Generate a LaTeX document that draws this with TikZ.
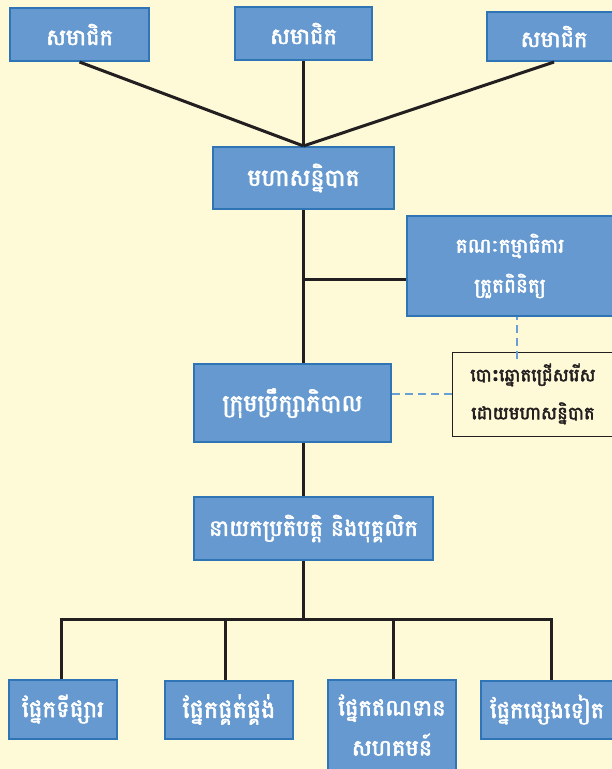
\documentclass[tikz,border=0pt]{standalone}
\usepackage{fontspec}
\newfontfamily\kh[Script=Khmer,AutoFakeBold=2.5]{Battambang}
\definecolor{bgc}{HTML}{FEF9D6}
\definecolor{boxfill}{HTML}{6699CF}
\definecolor{boxline}{HTML}{2F75B5}
\definecolor{dashc}{HTML}{6A9FD4}
\definecolor{ink}{HTML}{231F20}
\tikzset{
  kbox/.style={draw=boxline, line width=2pt, fill=boxfill, text=white, inner sep=0pt,
    align=center, font=\kh\bfseries\fontsize{22.5}{40}\selectfont},
  notebox/.style={draw=ink, line width=1pt, fill=bgc, text=ink, inner sep=0pt,
    align=center, font=\kh\bfseries\fontsize{18}{38}\selectfont},
  conn/.style={draw=ink, line width=3pt},
  dashln/.style={draw=dashc, line width=2.2pt, dash pattern=on 8pt off 5pt}
}
\begin{document}
\begin{tikzpicture}[x=1pt,y=-1pt]
\fill[bgc] (0,0) rectangle (612,769);
\useasboundingbox (0,0) rectangle (612,769);
\clip (0,0) rectangle (612,769);
% top members
\node[kbox, minimum width=139, minimum height=53] (m1) at (79.5,34.5) {សមាជិក};
\node[kbox, minimum width=137, minimum height=53] (m2) at (303.5,33.5) {សមាជិក};
\node[kbox, minimum width=134, minimum height=49] (m3) at (554,36.5) {សមាជិក};
% general assembly
\node[kbox, minimum width=181, minimum height=62, font=\kh\bfseries\fontsize{23.5}{40}\selectfont] (ga) at (303.5,178) {មហាសន្និបាត};
% supervisory committee
\node[kbox, minimum width=206, minimum height=100, font=\kh\bfseries\fontsize{20}{40}\selectfont] (sc) at (510,266) {គណៈកម្មាធិការ\\ត្រួតពិនិត្យ};
% note
\node[notebox, minimum width=162, minimum height=84] (note) at (533,394) {បោះឆ្នោតជ្រើសរើស\\ដោយមហាសន្និបាត};
% board
\node[kbox, minimum width=197, minimum height=78, font=\kh\bfseries\fontsize{23.5}{40}\selectfont] (bd) at (292.5,403) {ក្រុមប្រឹក្សាភិបាល};
% executive
\node[kbox, minimum width=239, minimum height=63] (ed) at (313.5,528.5) {នាយកប្រតិបត្តិ និងបុគ្គលិក};
% departments
\node[kbox, minimum width=108, minimum height=59, font=\kh\bfseries\fontsize{23}{40}\selectfont] (d1) at (63,709) {ផ្នែកទីផ្សារ};
\node[kbox, minimum width=128, minimum height=58, font=\kh\bfseries\fontsize{24}{40}\selectfont] (d2) at (229,709.5) {ផ្នែកផ្គត់ផ្គង់};
\node[kbox, minimum width=128, minimum height=90] (d3) at (392,725) {ផ្នែកឥណទាន\\សហគមន៍};
\node[kbox, minimum height=58, anchor=west, inner xsep=9pt] (d4) at (480,709.5) {ផ្នែកផ្សេងទៀត};
% coordinates
\coordinate (j1) at (303.5,279);
\coordinate (b0) at (303.5,619);
\coordinate (b1) at (61,619);
\coordinate (b2) at (225,619);
\coordinate (b3) at (393,619);
\coordinate (b4) at (551,619);
% connectors
\draw[conn] (m1.south) -- (ga.north);
\draw[conn] (m2.south) -- (ga.north);
\draw[conn] (m3.south) -- (ga.north);
\draw[conn] (ga.south) -- (ga.south |- bd.north);
\draw[conn] (j1) -- (j1 -| sc.west);
\draw[conn] (ga.south |- bd.south) -- (ga.south |- ed.north);
\draw[conn] (ga.south |- ed.south) -- (b0);
\draw[conn] (b1 |- d1.north) -- (b1) -- (b4) -- (b4 |- d4.north);
\draw[conn] (b2) -- (b2 |- d2.north);
\draw[conn] (b3) -- (b3 |- d3.north);
\draw[dashln] ([xshift=-16pt,yshift=-7pt]note.north) -- ([xshift=-16pt]note.north |- sc.south) ++(0,7);
\draw[dashln] (note.west) -- (note.west -| bd.east);
\end{tikzpicture}
\end{document}
